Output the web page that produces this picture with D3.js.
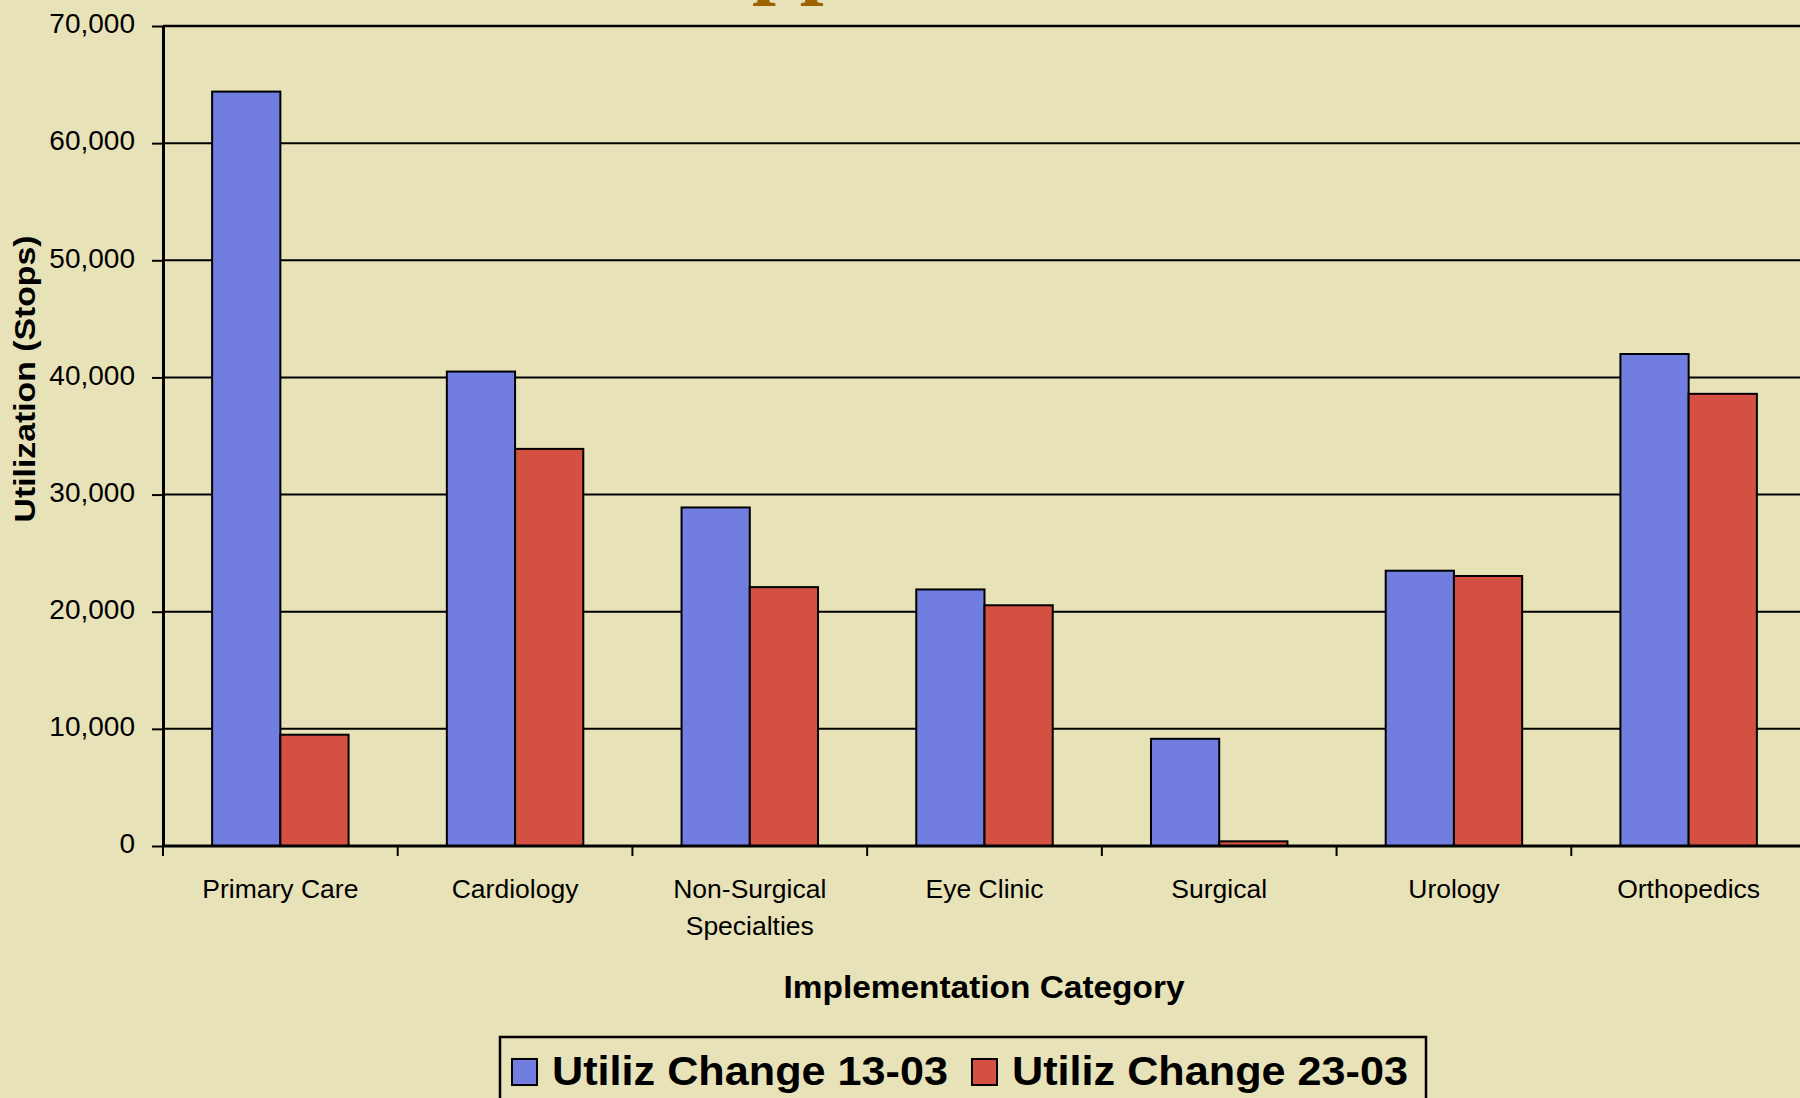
<!DOCTYPE html>
<html><head><meta charset="utf-8">
<script src="https://cdn.jsdelivr.net/npm/d3@7"></script>
<style>html,body{margin:0;padding:0;background:#e8e2b8;overflow:hidden}</style>
</head><body><svg id="c" width="1800" height="1098"></svg>
<script>
const categories = ["Primary Care","Cardiology","Non-Surgical Specialties","Eye Clinic","Surgical","Urology","Orthopedics"];
const categoryLines = [["Primary Care"],["Cardiology"],["Non-Surgical","Specialties"],["Eye Clinic"],["Surgical"],["Urology"],["Orthopedics"]];
const seriesNames = ["Utiliz Change 13-03","Utiliz Change 23-03"];
const change13_03 = [64400,40500,28900,21900,9150,23500,42000];
const change23_03 = [9500,33900,22100,20550,400,23050,38600];
const yTicks = [0,10000,20000,30000,40000,50000,60000,70000];
const colors = ["#727de0","#d35042"];
const yTitle = "Utilization (Stops)";
const xTitle = "Implementation Category";
const titleFragment = "pp";

(function(){
const FONT = "'Liberation Sans', Arial, sans-serif";
const svg = d3.select("#c");
svg.append("rect").attr("width",1800).attr("height",1098).attr("fill","#e8e2b8");

const pLeft=163, pRight=1806, pTop=26, pBottom=846;
const x0 = d3.scaleBand().domain(categories).range([pLeft,pRight]).padding(0);
const x1 = d3.scaleBand().domain(seriesNames).range([0,x0.bandwidth()]).paddingInner(0).paddingOuter(0.72);
const y = d3.scaleLinear().domain([0,70000]).range([pBottom,pTop]);

// title fragment (cut off at top, as in the reference)
svg.append("text").attr("x",752).attr("y",-13)
  .attr("font-family","'Liberation Serif', 'Times New Roman', serif").attr("font-weight","bold")
  .attr("font-size",86).attr("fill","#9c6400").text(titleFragment);

// gridlines
svg.append("g").selectAll("line").data(yTicks.filter(d=>d>0)).join("line")
  .attr("x1",pLeft).attr("x2",1800).attr("y1",d=>y(d)).attr("y2",d=>y(d))
  .attr("stroke","#000").attr("stroke-width",d=>d===70000?2.6:2);

// bars
const data = categories.map((c,i)=>({c, vals:[change13_03[i],change23_03[i]]}));
const g = svg.append("g");
g.selectAll("g").data(data).join("g")
  .attr("transform",d=>`translate(${x0(d.c)},0)`)
  .selectAll("rect").data(d=>d.vals.map((v,j)=>({s:seriesNames[j],v,j}))).join("rect")
  .attr("x",d=>x1(d.s)).attr("width",x1.bandwidth())
  .attr("y",d=>y(d.v)).attr("height",d=>y(0)-y(d.v))
  .attr("fill",d=>colors[d.j]).attr("stroke","#000").attr("stroke-width",2);

// y axis
const ya = svg.append("g").attr("transform",`translate(${pLeft},0)`)
  .call(d3.axisLeft(y).tickValues(yTicks).tickSize(11).tickSizeOuter(0).tickPadding(17).tickFormat(d3.format(",")));
ya.select(".domain").attr("stroke","#000").attr("stroke-width",3);
ya.selectAll(".tick line").attr("stroke","#000").attr("stroke-width",2);
ya.selectAll(".tick text").attr("font-family",FONT).attr("font-size",28).attr("fill","#000").attr("dy","0.24em");

// x axis baseline + boundary ticks
svg.append("line").attr("x1",pLeft-1).attr("x2",1800).attr("y1",y(0)).attr("y2",y(0))
  .attr("stroke","#000").attr("stroke-width",3);
const bounds = categories.map(c=>x0(c));
svg.append("g").selectAll("line").data(bounds).join("line")
  .attr("x1",d=>d).attr("x2",d=>d).attr("y1",y(0)).attr("y2",y(0)+10)
  .attr("stroke","#000").attr("stroke-width",2);

// x labels
const xl = svg.append("g").selectAll("text").data(categories).join("text")
  .attr("x",d=>x0(d)+x0.bandwidth()/2).attr("y",898)
  .attr("text-anchor","middle").attr("font-family",FONT).attr("font-size",26.5).attr("fill","#000");
xl.each(function(d,i){
  d3.select(this).selectAll("tspan").data(categoryLines[i]).join("tspan")
    .attr("x",x0(d)+x0.bandwidth()/2).attr("dy",(t,k)=>k===0?0:37).text(t=>t);
});

// axis titles
svg.append("text").attr("transform","translate(35,379) rotate(-90)")
  .attr("text-anchor","middle").attr("font-family",FONT).attr("font-weight","bold")
  .attr("font-size",29).attr("textLength",287).attr("lengthAdjust","spacingAndGlyphs").text(yTitle);
svg.append("text").attr("x",984).attr("y",998)
  .attr("text-anchor","middle").attr("font-family",FONT).attr("font-weight","bold")
  .attr("font-size",32).attr("textLength",401).attr("lengthAdjust","spacingAndGlyphs").text(xTitle);

// legend
svg.append("rect").attr("x",500).attr("y",1037).attr("width",926).attr("height",100)
  .attr("fill","none").attr("stroke","#000").attr("stroke-width",2.5);
const lg = svg.append("g").selectAll("g").data(seriesNames).join("g")
  .attr("transform",(d,i)=>`translate(${512+i*460},0)`);
lg.append("rect").attr("x",0).attr("y",1059).attr("width",25).attr("height",26)
  .attr("fill",(d,i)=>colors[i]).attr("stroke","#000").attr("stroke-width",2);
lg.append("text").attr("x",40).attr("y",1085).attr("font-family",FONT).attr("font-weight","bold")
  .attr("font-size",41).attr("textLength",396).attr("lengthAdjust","spacingAndGlyphs").attr("fill","#000").text(d=>d);
})();
</script></body></html>
